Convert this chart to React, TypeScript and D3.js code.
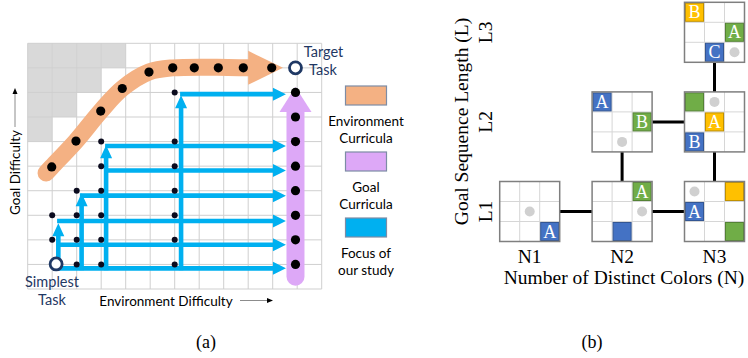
import React from 'react';
import * as d3 from 'd3';

// ---- panel (a) data (grid units: column i from left, row j from bottom) ----
const grayStair = [4, 3, 2, 1]; // gray cells per row, from the top row down
const orangeDots: [number, number][] = [
  [0.98, 4.97], [1.97, 6.02], [2.98, 7.24], [3.86, 8.16], [4.95, 8.83],
  [5.92, 9], [6.8, 9], [7.78, 9], [8.8, 9], [9.96, 9],
];
const orangeBand: [number, number][] = [
  [0.75, 4.72], [0.98, 4.97], [1.97, 6.02], [2.98, 7.24], [3.86, 8.16],
  [4.95, 8.83], [5.92, 9], [9, 9],
];
const purpleCol = 10.93;
const purpleDotRows = [1, 2, 3, 4, 5, 6, 7, 8];
const smallDotCols = [1, 2, 3, 6];
const smallDotRows = [[2, 3], [1, 2, 3, 4], [1, 2, 3, 4, 5, 6], [1, 2, 3, 4, 5, 6, 8]];
const hArrowY = [0.84, 1.8, 2.77, 3.8, 4.82, 5.82, 7.93];
const hArrowFrom = [1.24, 1.24, 1.2, 2.13, 3.16, 3.16, 6.22];
const hArrowTo = 10.54;
const vArrowX = [1.25, 2.2, 3.2, 6.26];
const vArrowTo = [2.68, 3.9, 5.85, 7.89];
const vArrowFrom = 0.84;
const simplest: [number, number] = [1.16, 1.02];
const target: [number, number] = [purpleCol, 9];

const legendItems = [
  { color: '#F4B183', lines: ['Environment', 'Curricula'] },
  { color: '#DDA8F7', lines: ['Goal', 'Curricula'] },
  { color: '#00B0F0', lines: ['Focus of', 'our study'] },
];

// ---- panel (b) data ----
const nLevels = ['N1', 'N2', 'N3'];
const lLevels = ['L1', 'L2', 'L3'];
const BLUE = '#4472C4', GREEN = '#70AD47', YELLOW = '#FFC000';
type Tile = { r: number; c: number; color: string; letter?: string };
const boards: { n: string; l: string; tiles: Tile[]; ball: [number, number] }[] = [
  { n: 'N1', l: 'L1', tiles: [{ r: 2, c: 2, color: BLUE, letter: 'A' }], ball: [1, 1] },
  { n: 'N2', l: 'L1', tiles: [{ r: 0, c: 2, color: GREEN, letter: 'A' }, { r: 2, c: 1, color: BLUE }], ball: [1, 2] },
  { n: 'N3', l: 'L1', tiles: [{ r: 0, c: 2, color: YELLOW }, { r: 1, c: 0, color: BLUE, letter: 'A' }, { r: 2, c: 2, color: GREEN }], ball: [0, 0] },
  { n: 'N2', l: 'L2', tiles: [{ r: 0, c: 0, color: BLUE, letter: 'A' }, { r: 1, c: 2, color: GREEN, letter: 'B' }], ball: [2, 1] },
  { n: 'N3', l: 'L2', tiles: [{ r: 0, c: 0, color: GREEN }, { r: 1, c: 1, color: YELLOW, letter: 'A' }, { r: 2, c: 0, color: BLUE, letter: 'B' }], ball: [0, 1] },
  { n: 'N3', l: 'L3', tiles: [{ r: 0, c: 0, color: YELLOW, letter: 'B' }, { r: 1, c: 2, color: GREEN, letter: 'A' }, { r: 2, c: 1, color: BLUE, letter: 'C' }], ball: [2, 2] },
];
const links: [string, string, string, string][] = [
  ['N1', 'L1', 'N2', 'L1'], ['N2', 'L1', 'N3', 'L1'], ['N2', 'L1', 'N2', 'L2'],
  ['N3', 'L1', 'N3', 'L2'], ['N2', 'L2', 'N3', 'L2'], ['N3', 'L2', 'N3', 'L3'],
];

const darker = (c: string) => d3.color(c)!.darker(0.8).formatHex();

const hArrow = (x0: number, x1: number, y: number) => {
  const hw = 2.3, hl = 13, hh = 6.5;
  return `M${x0},${y - hw}L${x1 - hl},${y - hw}L${x1 - hl},${y - hh}L${x1},${y}L${x1 - hl},${y + hh}L${x1 - hl},${y + hw}L${x0},${y + hw}Z`;
};
const vArrow = (x: number, y0: number, y1: number) => {
  const hw = 2.3, hl = 13, hh = 6;
  return `M${x - hw},${y0}L${x - hw},${y1 + hl}L${x - hh},${y1 + hl}L${x},${y1}L${x + hh},${y1 + hl}L${x + hw},${y1 + hl}L${x + hw},${y0}Z`;
};

export default function App() {
  const gx = d3.scaleLinear().domain([0, 12]).range([27.7, 321.7]);
  const gy = d3.scaleLinear().domain([0, 10]).range([289, 43.3]);
  const cw = gx(1) - gx(0), ch = gy(0) - gy(1);

  const bandLine = d3.line<[number, number]>().x((d) => gx(d[0])).y((d) => gy(d[1])).curve(d3.curveCatmullRom);
  const oHeadX0 = gx(9), oHeadX1 = gx(10.42), oy = gy(9);
  const px = gx(purpleCol), pHeadY0 = gy(7.2), pHeadY1 = gy(8.22);

  const xN = d3.scalePoint<string>().domain(nLevels).range([529.7, 714.5]);
  const yL = d3.scalePoint<string>().domain(lLevels).range([211.5, 32.3]);
  const B = 60, cs = B / 3;

  const calibri = 'Lato, "Open Sans", sans-serif';
  const serif = '"Liberation Serif", "Times New Roman", serif';
  const navy = '#1F3864';

  return (
    <svg width={748} height={358} style={{ position: 'absolute', left: 0, top: 0, background: '#fff' }}>
      {/* ---------- panel (a) ---------- */}
      {grayStair.map((n, k) =>
        d3.range(n).map((i) => (
          <rect key={`g${k}-${i}`} x={gx(i)} y={gy(10 - k)} width={cw} height={ch} fill="#D9D9D9" />
        ))
      )}
      {d3.range(13).map((i) => (
        <line key={`vx${i}`} x1={gx(i)} x2={gx(i)} y1={gy(0)} y2={gy(10)} stroke="#CFCFCF" strokeWidth={1} />
      ))}
      {d3.range(11).map((j) => (
        <line key={`hy${j}`} x1={gx(0)} x2={gx(12)} y1={gy(j)} y2={gy(j)} stroke="#CFCFCF" strokeWidth={1} />
      ))}

      {/* environment curricula (orange) */}
      <path d={bandLine(orangeBand)!} fill="none" stroke="#F4B183" strokeWidth={17} strokeLinecap="round" />
      <path d={`M${oHeadX0},${oy - 17}L${oHeadX1},${oy}L${oHeadX0},${oy + 17}Z`} fill="#F4B183" />
      {orangeDots.map((d, k) => (
        <circle key={`od${k}`} cx={gx(d[0])} cy={gy(d[1])} r={4.6} fill="#000" />
      ))}

      {/* goal curricula (purple) */}
      <line x1={px} x2={px} y1={gy(0.5)} y2={pHeadY0} stroke="#DDA8F7" strokeWidth={18} strokeLinecap="round" />
      <path d={`M${px - 16},${pHeadY0}L${px},${pHeadY1}L${px + 16},${pHeadY0}Z`} fill="#DDA8F7" />

      {/* focus of our study (blue) */}
      {hArrowY.map((y, k) => (
        <path key={`ha${k}`} d={hArrow(gx(hArrowFrom[k]), gx(hArrowTo), gy(y))} fill="#00B0F0" />
      ))}
      {vArrowX.map((x, k) => (
        <path key={`va${k}`} d={vArrow(gx(x), gy(vArrowFrom) + 2, gy(vArrowTo[k]))} fill="#00B0F0" />
      ))}

      {purpleDotRows.map((j) => (
        <circle key={`pd${j}`} cx={px} cy={gy(j)} r={4.6} fill="#000" />
      ))}
      {smallDotCols.map((i, k) =>
        smallDotRows[k].map((j) => (
          <circle key={`sd${i}-${j}`} cx={gx(i)} cy={gy(j)} r={3} fill="#0B0B1E" />
        ))
      )}

      <circle cx={gx(simplest[0])} cy={gy(simplest[1])} r={6} fill="#fff" stroke={navy} strokeWidth={2.8} />
      <circle cx={gx(target[0])} cy={gy(target[1])} r={6} fill="#fff" stroke={navy} strokeWidth={2.8} />

      <g fontFamily={calibri} fontSize={14.5} fill={navy} textAnchor="middle">
        <text x={52} y={287}>Simplest</text>
        <text x={52} y={305}>Task</text>
        <text x={323.5} y={57}>Target</text>
        <text x={323} y={75}>Task</text>
      </g>

      {/* axis labels */}
      <g fontFamily={calibri} fontSize={13.5} fill="#000">
        <text x={166} y={306} textAnchor="middle">Environment Difficulty</text>
        <text transform="translate(19.5,172.5) rotate(-90)" textAnchor="middle">Goal Difficulty</text>
      </g>
      <line x1={240} x2={268} y1={300.5} y2={300.5} stroke="#8C8C8C" strokeWidth={1} />
      <path d="M273,300.5L267,298L267,303Z" fill="#000" />
      <line x1={15} x2={15} y1={127} y2={93} stroke="#8C8C8C" strokeWidth={1} />
      <path d="M15,88L12.5,94L17.5,94Z" fill="#000" />

      {/* legend */}
      {legendItems.map((it, k) => {
        const y0 = 86 + k * 66;
        return (
          <g key={`lg${k}`}>
            <rect x={345.5} y={y0} width={41} height={19} fill={it.color} stroke="#7D8CA5" strokeWidth={1.2} />
            {it.lines.map((ln, m) => (
              <text key={m} x={366} y={y0 + 39.5 + m * 17.6} textAnchor="middle" fontFamily={calibri} fontSize={13.5} fill="#000">
                {ln}
              </text>
            ))}
          </g>
        );
      })}

      {/* ---------- panel (b) ---------- */}
      {links.map((l, k) => (
        <line key={`lk${k}`} x1={xN(l[0])} y1={yL(l[1])} x2={xN(l[2])} y2={yL(l[3])} stroke="#000" strokeWidth={3} />
      ))}
      {boards.map((b, k) => {
        const x0 = xN(b.n)! - B / 2, y0 = yL(b.l)! - B / 2;
        return (
          <g key={`bd${k}`} transform={`translate(${x0},${y0})`}>
            <rect x={0} y={0} width={B} height={B} fill="#fff" />
            {[1, 2].map((m) => (
              <g key={m}>
                <line x1={m * cs} x2={m * cs} y1={0} y2={B} stroke="#D6D6D6" strokeWidth={1} />
                <line y1={m * cs} y2={m * cs} x1={0} x2={B} stroke="#D6D6D6" strokeWidth={1} />
              </g>
            ))}
            {b.tiles.map((t, m) => (
              <g key={m}>
                <rect x={t.c * cs + 1} y={t.r * cs + 1} width={cs - 2} height={cs - 2} fill={t.color} stroke={darker(t.color)} strokeWidth={1} />
                {t.letter && (
                  <text x={t.c * cs + cs / 2} y={t.r * cs + cs / 2 + 6} textAnchor="middle" fontFamily={serif} fontSize={18} fill="#fff">
                    {t.letter}
                  </text>
                )}
              </g>
            ))}
            <circle cx={b.ball[1] * cs + cs / 2} cy={b.ball[0] * cs + cs / 2} r={5} fill="#D0D0D0" />
            <rect x={0} y={0} width={B} height={B} fill="none" stroke="#7F7F7F" strokeWidth={1.5} />
          </g>
        );
      })}

      <g fontFamily={serif} fontSize={19.5} fill="#000">
        {nLevels.map((n) => (
          <text key={n} x={xN(n)} y={263} textAnchor="middle">{n}</text>
        ))}
        {lLevels.map((l) => (
          <text key={l} transform={`translate(${492},${yL(l)}) rotate(-90)`} textAnchor="middle">{l}</text>
        ))}
        <text x={624} y={283.7} textAnchor="middle">Number of Distinct Colors (N)</text>
        <text transform="translate(468,121.5) rotate(-90)" textAnchor="middle">Goal Sequence Length (L)</text>
      </g>
      <g fontFamily={serif} fontSize={18} fill="#000">
        <text x={206} y={348} textAnchor="middle">(a)</text>
        <text x={592} y={348} textAnchor="middle">(b)</text>
      </g>
    </svg>
  );
}
